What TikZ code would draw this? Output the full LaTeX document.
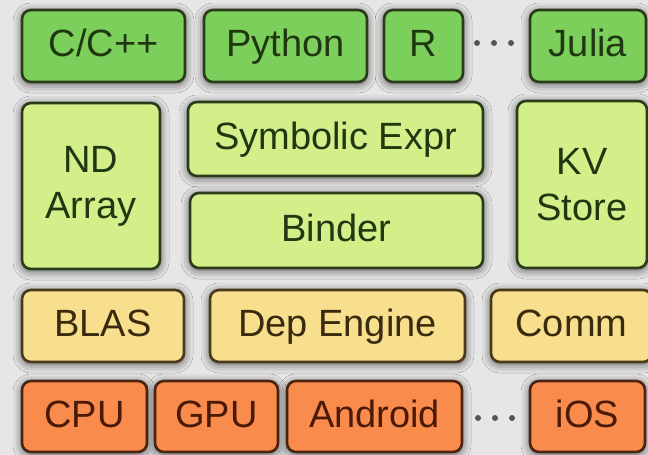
\documentclass[tikz,border=0pt]{standalone}
\usepackage{fontspec}
\setmainfont{Liberation Sans}
\usetikzlibrary{shadows.blur}
\definecolor{bgc}{HTML}{E6E6E6}
\definecolor{langfill}{HTML}{7CCF5B}
\definecolor{corefill}{HTML}{D4EE8A}
\definecolor{sysfill}{HTML}{F8DF8E}
\definecolor{hwfill}{HTML}{F98B4C}
\definecolor{greenedge}{HTML}{2A3C1A}
\definecolor{greentext}{HTML}{1F3812}
\definecolor{yellowedge}{HTML}{4A3A1C}
\definecolor{yellowtext}{HTML}{3A2A0E}
\definecolor{orangeedge}{HTML}{4A2410}
\definecolor{orangetext}{HTML}{4A1A06}
\definecolor{dotc}{HTML}{555555}
\tikzset{
  blk/.style={draw, line width=2.6pt, rounded corners=9pt, inner sep=0pt,
    font=\fontsize{38}{46}\selectfont, align=center,
    blur shadow={shadow xshift=0pt, shadow yshift=-2pt, shadow blur radius=9pt, shadow opacity=65}},
  one/.style={text height=27pt, text depth=6pt},
  lang/.style={blk, one, fill=langfill, draw=greenedge, text=greentext},
  core/.style={blk, fill=corefill, draw=greenedge, text=greentext},
  coreone/.style={core, one},
  sys/.style={blk, one, fill=sysfill, draw=yellowedge, text=yellowtext},
  hw/.style={blk, one, fill=hwfill, draw=orangeedge, text=orangetext},
  dotm/.style={circle, fill=dotc, inner sep=0pt, minimum size=6pt},
}
\begin{document}
\begin{tikzpicture}[x=1pt, y=-1pt]
\useasboundingbox (0,0) rectangle (648,455);
\fill[bgc] (0,0) rectangle (648,455);
% row 1
\node[lang, minimum width=163pt, minimum height=72pt] (cc) at (103.5,46) {C/C++};
\node[lang, minimum width=163pt, minimum height=72pt] (py) at (285.5,46) {Python};
\node[lang, minimum width=79pt, minimum height=72pt] (r) at (423.5,46) {R};
\node[lang, minimum width=116pt, minimum height=72pt] (julia) at (588,46) {Julia};
\node[dotm] (d1) at (477,43) {};
\node[dotm] (d2) at (494,43) {};
\node[dotm] (d3) at (511,43) {};
% row 2
\node[core, minimum width=138pt, minimum height=166pt] (nd) at (91,186) {ND\\Array};
\node[coreone, minimum width=295pt, minimum height=74pt] (sym) at (335.5,139) {Symbolic Expr};
\node[coreone, minimum width=293pt, minimum height=75pt] (binder) at (336.5,230.5) {Binder};
\node[core, minimum width=130pt, minimum height=167pt] (kv) at (582,184.5) {KV\\Store};
% row 3
\node[sys, minimum width=162pt, minimum height=72pt] (blas) at (103,326) {BLAS};
\node[sys, minimum width=255pt, minimum height=72pt] (dep) at (337.5,326) {Dep Engine};
\node[sys, minimum width=161pt, minimum height=72pt] (comm) at (571.5,326) {Comm};
% row 4
\node[hw, minimum width=125pt, minimum height=71pt] (cpu) at (84.5,416.5) {CPU};
\node[hw, minimum width=123pt, minimum height=71pt] (gpu) at (216.5,416.5) {GPU};
\node[hw, minimum width=175pt, minimum height=71pt] (android) at (374.5,416.5) {Android};
\node[hw, minimum width=115pt, minimum height=71pt] (ios) at (587.5,416.5) {iOS};
\node[dotm] (e1) at (478,418) {};
\node[dotm] (e2) at (495,418) {};
\node[dotm] (e3) at (512,418) {};
\end{tikzpicture}
\end{document}
